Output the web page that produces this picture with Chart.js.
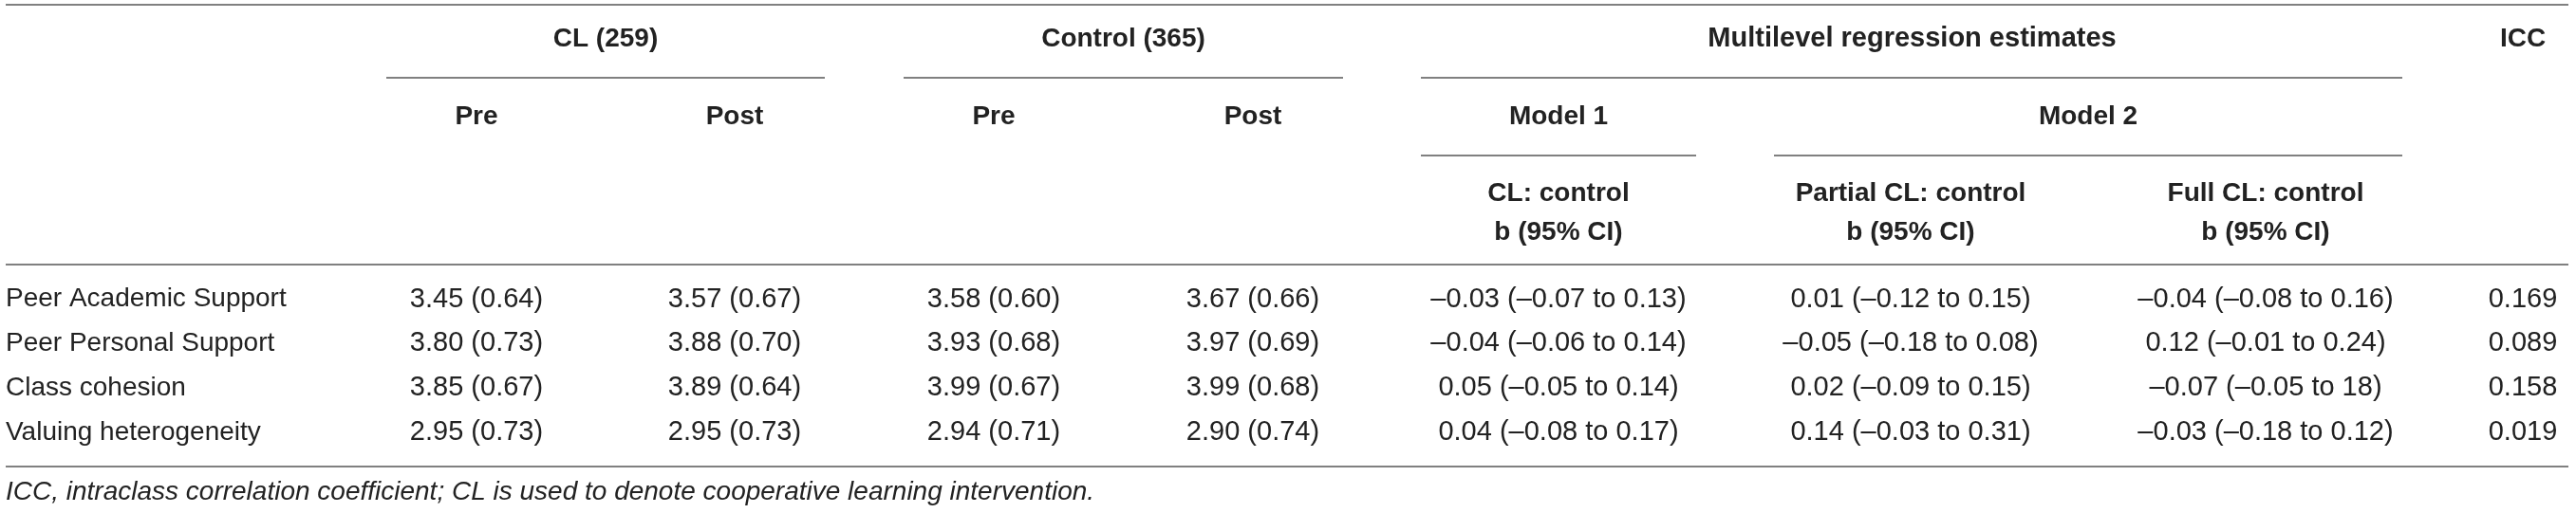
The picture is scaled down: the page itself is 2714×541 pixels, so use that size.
<!DOCTYPE html>
<html lang="en">
<head>
<meta charset="UTF-8">
<title>CL vs control: peer support, cohesion and heterogeneity</title>
<script src="https://cdn.jsdelivr.net/npm/chart.js@4.4.0/dist/chart.umd.min.js"></script>
<style>
  html, body { margin: 0; padding: 0; background: #fff; }
  canvas { display: block; }
</style>
</head>
<body>
<canvas id="chart" width="2714" height="541"></canvas>
<script>
// table contents
const rowLabels = ['Peer Academic Support', 'Peer Personal Support', 'Class cohesion', 'Valuing heterogeneity'];
const clPre = ['3.45 (0.64)', '3.80 (0.73)', '3.85 (0.67)', '2.95 (0.73)'];
const clPost = ['3.57 (0.67)', '3.88 (0.70)', '3.89 (0.64)', '2.95 (0.73)'];
const ctrlPre = ['3.58 (0.60)', '3.93 (0.68)', '3.99 (0.67)', '2.94 (0.71)'];
const ctrlPost = ['3.67 (0.66)', '3.97 (0.69)', '3.99 (0.68)', '2.90 (0.74)'];
const model1 = ['–0.03 (–0.07 to 0.13)', '–0.04 (–0.06 to 0.14)', '0.05 (–0.05 to 0.14)', '0.04 (–0.08 to 0.17)'];
const model2Partial = ['0.01 (–0.12 to 0.15)', '–0.05 (–0.18 to 0.08)', '0.02 (–0.09 to 0.15)', '0.14 (–0.03 to 0.31)'];
const model2Full = ['–0.04 (–0.08 to 0.16)', '0.12 (–0.01 to 0.24)', '–0.07 (–0.05 to 18)', '–0.03 (–0.18 to 0.12)'];
const icc = ['0.169', '0.089', '0.158', '0.019'];

const groupHeaders = ['CL (259)', 'Control (365)', 'Multilevel regression estimates', 'ICC'];
const subHeaders = ['Pre', 'Post', 'Pre', 'Post', 'Model 1', 'Model 2'];
const effectHeaders = ['CL: control', 'Partial CL: control', 'Full CL: control'];
const effectUnit = 'b (95% CI)';
const footnote = 'ICC, intraclass correlation coefficient; CL is used to denote cooperative learning intervention.';

const columns = [clPre, clPost, ctrlPre, ctrlPost, model1, model2Partial, model2Full, icc];

// layout (table units on x, row units on y)
const colX = [502, 774, 1047, 1320, 1642, 2013, 2387, 2658];
const colHalf = [95, 95, 95, 95, 145, 144, 144, 40];
const labelX = 6;
const rightX = 2706;
const Y = {
  topRule: -6.63, group: -5.86, groupRule: -4.99, sub: -4.11, subRule: -3.24,
  eff1: -2.38, eff2: -1.51, headRule: -0.78, bottomRule: 3.77, note: 4.34
};

const FONT = '"Liberation Sans", Arial, Helvetica, sans-serif';
const TEXT = '#222';
const RULE = '#808080';

const datasets = columns.map((col, c) => ({
  label: 'col' + c,
  data: col.map((v, r) => ({ x: colX[c], y: r, text: v })),
  pointRadius: 0,
  showLine: false
}));
datasets.unshift({
  label: 'rows',
  data: rowLabels.map((v, r) => ({ x: labelX, y: r, text: v })),
  pointRadius: 0,
  showLine: false
});

const tablePlugin = {
  id: 'table',
  afterDatasetsDraw(chart) {
    const ctx = chart.ctx;
    const xs = chart.scales.x;
    const ys = chart.scales.y;
    const px = v => xs.getPixelForValue(v);
    const py = v => ys.getPixelForValue(v);

    function rule(x0, x1, y) {
      ctx.save();
      ctx.strokeStyle = RULE;
      ctx.lineWidth = 2;
      ctx.beginPath();
      ctx.moveTo(px(x0), Math.round(py(y)));
      ctx.lineTo(px(x1), Math.round(py(y)));
      ctx.stroke();
      ctx.restore();
    }
    function text(str, x, y, font, align) {
      ctx.save();
      ctx.font = font;
      ctx.fillStyle = TEXT;
      ctx.textAlign = align || 'center';
      ctx.textBaseline = 'middle';
      ctx.fillText(str, px(x), py(y));
      ctx.restore();
    }

    const bold = 'bold 28px ' + FONT;

    // rules
    rule(labelX, rightX, Y.topRule);
    rule(colX[0] - colHalf[0], colX[1] + colHalf[1], Y.groupRule);
    rule(colX[2] - colHalf[2], colX[3] + colHalf[3], Y.groupRule);
    rule(colX[4] - colHalf[4], colX[6] + colHalf[6], Y.groupRule);
    rule(colX[4] - colHalf[4], colX[4] + colHalf[4], Y.subRule);
    rule(colX[5] - colHalf[5], colX[6] + colHalf[6], Y.subRule);
    rule(labelX, rightX, Y.headRule);
    rule(labelX, rightX, Y.bottomRule);

    // headers
    text(groupHeaders[0], (colX[0] + colX[1]) / 2, Y.group, bold);
    text(groupHeaders[1], (colX[2] + colX[3]) / 2, Y.group, bold);
    text(groupHeaders[2], (colX[4] + colX[6]) / 2, Y.group, 'bold 29px ' + FONT);
    text(groupHeaders[3], colX[7], Y.group, bold);
    for (let i = 0; i < 5; i++) text(subHeaders[i], colX[i], Y.sub, bold);
    text(subHeaders[5], (colX[5] + colX[6]) / 2, Y.sub, bold);
    effectHeaders.forEach((h, i) => {
      text(h, colX[4 + i], Y.eff1, bold);
      text(effectUnit, colX[4 + i], Y.eff2, bold);
    });

    // body cells from the datasets
    chart.data.datasets.forEach((ds, d) => {
      const meta = chart.getDatasetMeta(d);
      meta.data.forEach((el, i) => {
        ctx.save();
        ctx.font = (d === 0 ? '28px ' : '29px ') + FONT;
        ctx.fillStyle = TEXT;
        ctx.textAlign = d === 0 ? 'left' : 'center';
        ctx.textBaseline = 'middle';
        ctx.fillText(ds.data[i].text, el.x, el.y);
        ctx.restore();
      });
    });

    // note
    text(footnote, labelX, Y.note, 'italic 28px ' + FONT, 'left');
  }
};

new Chart(document.getElementById('chart'), {
  type: 'scatter',
  data: { datasets },
  options: {
    responsive: false,
    animation: false,
    devicePixelRatio: 1,
    layout: { padding: 0 },
    plugins: { legend: { display: false }, tooltip: { enabled: false } },
    scales: {
      x: { type: 'linear', min: 0, max: 2714, display: false },
      y: { type: 'linear', min: -6.737, max: 4.815, reverse: true, display: false }
    }
  },
  plugins: [tablePlugin]
});
</script>
</body>
</html>
